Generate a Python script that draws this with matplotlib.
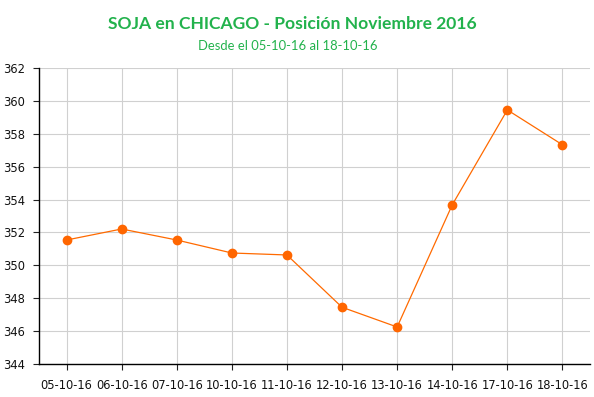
import matplotlib
matplotlib.use("Agg")
import matplotlib.pyplot as plt

dates = ["05-10-16", "06-10-16", "07-10-16", "10-10-16", "11-10-16",
         "12-10-16", "13-10-16", "14-10-16", "17-10-16", "18-10-16"]
prices = [351.54, 352.21, 351.54, 350.75, 350.63, 347.45, 346.25, 353.68, 359.45, 357.33]
y_ticks = [344, 346, 348, 350, 352, 354, 356, 358, 360, 362]

title = "SOJA en CHICAGO - Posición Noviembre 2016"
subtitle = "Desde el 05-10-16 al 18-10-16"

fig = plt.figure(figsize=(5.94, 3.97), dpi=100)
ax = fig.add_axes([39/594, 33/397, 551/594, 296/397])

x = list(range(len(dates)))
ax.plot(x, prices, color="#FF6A00", lw=0.9, marker="o", ms=6,
        markerfacecolor="#FF6600", markeredgecolor="#FF6600", zorder=3)

ax.set_xlim(-0.5, len(dates) - 0.5)
ax.set_ylim(344, 362)
ax.set_yticks(y_ticks)
ax.set_xticks(x)
ax.set_xticklabels(dates)
ax.grid(True, color="#d0d0d0", lw=0.8)
ax.set_axisbelow(True)
for s in ["top", "right"]:
    ax.spines[s].set_visible(False)
for s in ["left", "bottom"]:
    ax.spines[s].set_color("black")
    ax.spines[s].set_linewidth(1.0)
ax.tick_params(axis="both", length=4, width=0.8, color="#222222",
               labelsize=8.3, labelcolor="#111111")
ax.tick_params(axis="x", pad=7)
ax.tick_params(axis="y", pad=6)

fig.text(0.493, 1 - 24/397, title, ha="center", va="center",
         fontsize=12.6, fontweight="bold", color="#22b24c", family="Lato")
fig.text(0.485, 1 - 46/397, subtitle, ha="center", va="center",
         fontsize=9.4, color="#22b24c", family="Lato")

fig.savefig("out.png", dpi=100)
